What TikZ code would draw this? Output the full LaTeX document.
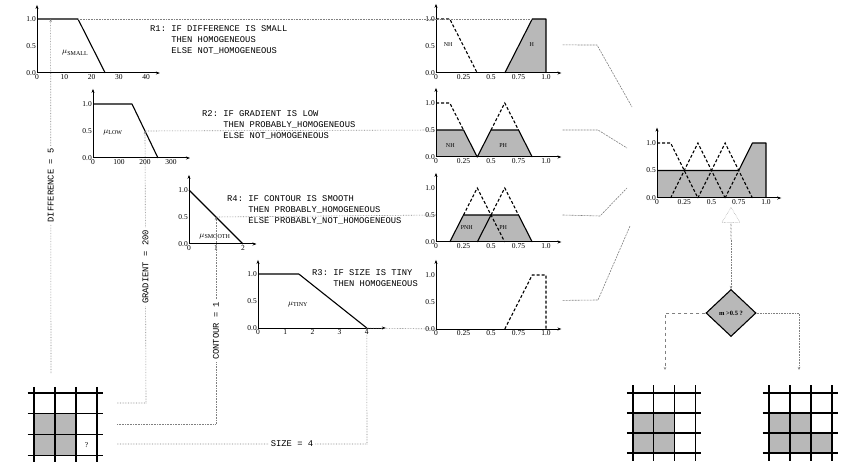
\documentclass[tikz,border=0pt]{standalone}
\usepackage{fontspec}
\setmainfont{Liberation Serif}
\setmonofont{Liberation Mono}
\usetikzlibrary{arrows.meta,shapes.geometric,shapes.arrows}

\newcommand{\rulefont}{\fontsize{8.8}{11}\selectfont\ttfamily}

\tikzset{
  axis/.style={-{Stealth[length=4pt,width=3pt]}, line width=1pt},
  member/.style={line width=1.1pt, line join=round},
  fuzzy/.style={line width=1.1pt, dash pattern=on 3pt off 2pt},
  guide/.style={gray, densely dotted, line width=0.6pt},
  link/.style={gray, dash pattern=on 2pt off 1pt, line width=0.6pt},
  ticklab/.style={font=\fontsize{7.5}{8}\selectfont, inner sep=1pt},
  setlab/.style={font=\fontsize{6}{7}\selectfont, inner sep=0pt},
  mulab/.style={font=\fontsize{8}{9}\selectfont, inner sep=0pt},
  guidelab/.style={font=\rulefont, text=black, fill=white, inner sep=2pt},
  rulebox/.style={font=\rulefont, align=left, anchor=north west, inner sep=0pt},
  cellfill/.style={fill=black!28},
  gridline/.style={line width=1.2pt},
  tip/.style={-{Stealth[length=3pt,width=2.5pt]}},
}

\begin{document}
\begin{tikzpicture}[x=1pt, y=-1pt]
  \useasboundingbox (0,0) rectangle (848,462);

  % difference is small
  \begin{scope}[shift={(37,73)}, x=2.73pt, y=54pt]
    \draw[axis] (0,0) -- (45,0);
    \draw[axis] (0,0) -- (0,1.26);
    \draw[member] (0,1) -- (15,1) -- (25,0);
    \node[ticklab, anchor=east] at (0,1) {1.0};
    \node[ticklab, anchor=east] at (0,0.5) {0.5};
    \node[ticklab, anchor=east] at (0,0) {0.0};
    \node[ticklab, anchor=north] at (0,0) {0};
    \node[ticklab, anchor=north] at (10,0) {10};
    \node[ticklab, anchor=north] at (20,0) {20};
    \node[ticklab, anchor=north] at (30,0) {30};
    \node[ticklab, anchor=north] at (40,0) {40};
    \node[mulab] (musmall) at (14,0.37) {$\mu_{\mathrm{SMALL}}$};
    \coordinate (small5) at (5,1);
    \coordinate (small15) at (15,1);
  \end{scope}

  % gradient is low
  \begin{scope}[shift={(93,158)}, x=0.26pt, y=54pt]
    \draw[axis] (0,0) -- (373,0);
    \draw[axis] (0,0) -- (0,1.28);
    \draw[member] (0,1) -- (150,1) -- (250,0);
    \node[ticklab, anchor=east] at (0,1) {1.0};
    \node[ticklab, anchor=east] at (0,0.5) {0.5};
    \node[ticklab, anchor=east] at (0,0) {0.0};
    \node[ticklab, anchor=north] at (0,0) {0};
    \node[ticklab, anchor=north] at (100,0) {100};
    \node[ticklab, anchor=north] at (200,0) {200};
    \node[ticklab, anchor=north] at (300,0) {300};
    \node[mulab] (mulow) at (77,0.48) {$\mu_{\mathrm{LOW}}$};
    \coordinate (low200) at (200,0.5);
  \end{scope}

  % contour is smooth
  \begin{scope}[shift={(189,244)}, x=27pt, y=54pt]
    \draw[axis] (0,0) -- (2.5,0);
    \draw[axis] (0,0) -- (0,1.28);
    \draw[member] (0,1) -- (2,0);
    \node[ticklab, anchor=east] at (0,1) {1.0};
    \node[ticklab, anchor=east] at (0,0.5) {0.5};
    \node[ticklab, anchor=east] at (0,0) {0.0};
    \node[ticklab, anchor=north] at (0,0) {0};
    \node[ticklab, anchor=north] at (1,0) {1};
    \node[ticklab, anchor=north] at (2,0) {2};
    \node[mulab] (musmooth) at (0.96,0.14) {$\mu_{\mathrm{SMOOTH}}$};
    \coordinate (smooth1) at (1,0.5);
  \end{scope}

  % size is tiny
  \begin{scope}[shift={(258,328)}, x=27.2pt, y=54pt]
    \draw[axis] (0,0) -- (4.7,0);
    \draw[axis] (0,0) -- (0,1.26);
    \draw[member] (0,1) -- (1.5,1) -- (4,0);
    \node[ticklab, anchor=east] at (0,1) {1.0};
    \node[ticklab, anchor=east] at (0,0.5) {0.5};
    \node[ticklab, anchor=east] at (0,0) {0.0};
    \node[ticklab, anchor=north] at (0,0) {0};
    \node[ticklab, anchor=north] at (1,0) {1};
    \node[ticklab, anchor=north] at (2,0) {2};
    \node[ticklab, anchor=north] at (3,0) {3};
    \node[ticklab, anchor=north] at (4,0) {4};
    \node[mulab] (mutiny) at (1.47,0.43) {$\mu_{\mathrm{TINY}}$};
    \coordinate (tiny4) at (4,0);
  \end{scope}

  % rules
  \node[rulebox] (rule1) at (150,25) {R1: IF DIFFERENCE IS SMALL\\\phantom{R1: }THEN HOMOGENEOUS\\\phantom{R1: }ELSE NOT\_HOMOGENEOUS};
  \node[rulebox] (rule2) at (202,110) {R2: IF GRADIENT IS LOW\\\phantom{R2: }THEN PROBABLY\_HOMOGENEOUS\\\phantom{R2: }ELSE NOT\_HOMOGENEOUS};
  \node[rulebox] (rule4) at (227,195) {R4: IF CONTOUR IS SMOOTH\\\phantom{R4: }THEN PROBABLY\_HOMOGENEOUS\\\phantom{R4: }ELSE PROBABLY\_NOT\_HOMOGENEOUS};
  \node[rulebox] (rule3) at (312,269) {R3: IF SIZE IS TINY\\\phantom{R3: }THEN HOMOGENEOUS};

  % output of R1
  \begin{scope}[shift={(436,73)}, x=110pt, y=54pt]
    \fill[cellfill] (0.625,0) -- (0.875,1) -- (1,1) -- (1,0) -- cycle;
    \draw[member] (0.625,0) -- (0.875,1) -- (1,1) -- (1,0);
    \draw[fuzzy] (0,1) -- (0.125,1) -- (0.375,0);
    \draw[axis] (0,0) -- (1.14,0);
    \draw[axis] (0,0) -- (0,1.28);
    \node[ticklab, anchor=east] at (0,1) {1.0};
    \node[ticklab, anchor=east] at (0,0.5) {0.5};
    \node[ticklab, anchor=east] at (0,0) {0.0};
    \node[ticklab, anchor=north] at (0,0) {0};
    \node[ticklab, anchor=north] at (0.25,0) {0.25};
    \node[ticklab, anchor=north] at (0.5,0) {0.5};
    \node[ticklab, anchor=north] at (0.75,0) {0.75};
    \node[ticklab, anchor=north] at (1,0) {1.0};
    \node[setlab] (nh1) at (0.11,0.52) {NH};
    \node[setlab] (h1) at (0.87,0.52) {H};
    \coordinate (r1top) at (0.875,1);
    \coordinate (r1out) at (1.15,0.52);
  \end{scope}

  % output of R2
  \begin{scope}[shift={(436,157)}, x=110pt, y=54pt]
    \fill[cellfill] (0,0) -- (0,0.5) -- (0.25,0.5) -- (0.375,0) -- cycle;
    \fill[cellfill] (0.375,0) -- (0.5,0.5) -- (0.75,0.5) -- (0.875,0) -- cycle;
    \draw[member] (0,0.5) -- (0.25,0.5) -- (0.375,0) -- (0.5,0.5) -- (0.75,0.5) -- (0.875,0);
    \draw[fuzzy] (0,1) -- (0.125,1) -- (0.25,0.5);
    \draw[fuzzy] (0.5,0.5) -- (0.625,1) -- (0.75,0.5);
    \draw[axis] (0,0) -- (1.14,0);
    \draw[axis] (0,0) -- (0,1.28);
    \node[ticklab, anchor=east] at (0,1) {1.0};
    \node[ticklab, anchor=east] at (0,0.5) {0.5};
    \node[ticklab, anchor=east] at (0,0) {0.0};
    \node[ticklab, anchor=north] at (0,0) {0};
    \node[ticklab, anchor=north] at (0.25,0) {0.25};
    \node[ticklab, anchor=north] at (0.5,0) {0.5};
    \node[ticklab, anchor=north] at (0.75,0) {0.75};
    \node[ticklab, anchor=north] at (1,0) {1.0};
    \node[setlab] (nh2) at (0.13,0.22) {NH};
    \node[setlab] (ph2) at (0.61,0.22) {PH};
    \coordinate (r2in) at (0,0.5);
    \coordinate (r2out) at (1.15,0.5);
  \end{scope}

  % output of R4
  \begin{scope}[shift={(436,242)}, x=110pt, y=54pt]
    \fill[cellfill] (0.125,0) -- (0.25,0.5) -- (0.5,0.5) -- (0.625,0) -- cycle;
    \fill[cellfill] (0.375,0) -- (0.5,0.5) -- (0.75,0.5) -- (0.875,0) -- cycle;
    \draw[member] (0.125,0) -- (0.25,0.5) -- (0.75,0.5) -- (0.875,0);
    \draw[member] (0.375,0) -- (0.5,0.5);
    \draw[fuzzy] (0.25,0.5) -- (0.375,1) -- (0.625,0);
    \draw[fuzzy] (0.5,0.5) -- (0.625,1) -- (0.75,0.5);
    \draw[axis] (0,0) -- (1.14,0);
    \draw[axis] (0,0) -- (0,1.28);
    \node[ticklab, anchor=east] at (0,1) {1.0};
    \node[ticklab, anchor=east] at (0,0.5) {0.5};
    \node[ticklab, anchor=east] at (0,0) {0.0};
    \node[ticklab, anchor=north] at (0,0) {0};
    \node[ticklab, anchor=north] at (0.25,0) {0.25};
    \node[ticklab, anchor=north] at (0.5,0) {0.5};
    \node[ticklab, anchor=north] at (0.75,0) {0.75};
    \node[ticklab, anchor=north] at (1,0) {1.0};
    \node[setlab] (pnh4) at (0.28,0.26) {PNH};
    \node[setlab] (ph4) at (0.61,0.26) {PH};
    \coordinate (r4in) at (0,0.5);
    \coordinate (r4out) at (1.15,0.5);
  \end{scope}

  % output of R3
  \begin{scope}[shift={(436,329)}, x=110pt, y=54pt]
    \draw[fuzzy] (0.625,0) -- (0.875,1) -- (1,1) -- (1,0);
    \draw[axis] (0,0) -- (1.14,0);
    \draw[axis] (0,0) -- (0,1.28);
    \node[ticklab, anchor=east] at (0,1) {1.0};
    \node[ticklab, anchor=east] at (0,0.5) {0.5};
    \node[ticklab, anchor=east] at (0,0) {0.0};
    \node[ticklab, anchor=north] at (0,0) {0};
    \node[ticklab, anchor=north] at (0.25,0) {0.25};
    \node[ticklab, anchor=north] at (0.5,0) {0.5};
    \node[ticklab, anchor=north] at (0.75,0) {0.75};
    \node[ticklab, anchor=north] at (1,0) {1.0};
    \coordinate (r3in) at (0,0);
    \coordinate (r3out) at (1.15,0.53);
  \end{scope}

  % aggregated output
  \begin{scope}[shift={(657,198)}, x=109pt, y=55pt]
    \fill[cellfill] (0,0) -- (0,0.5) -- (0.75,0.5) -- (0.875,1) -- (1,1) -- (1,0) -- cycle;
    \draw[member] (0,0.5) -- (0.75,0.5) -- (0.875,1) -- (1,1) -- (1,0);
    \draw[fuzzy] (0,1) -- (0.125,1) -- (0.375,0);
    \draw[fuzzy] (0.125,0) -- (0.375,1) -- (0.625,0);
    \draw[fuzzy] (0.375,0) -- (0.625,1) -- (0.875,0);
    \draw[fuzzy] (0.625,0) -- (0.75,0.5);
    \draw[axis] (0,0) -- (1.14,0);
    \draw[axis] (0,0) -- (0,1.28);
    \node[ticklab, anchor=east] at (0,1) {1.0};
    \node[ticklab, anchor=east] at (0,0.5) {0.5};
    \node[ticklab, anchor=east] at (0,0) {0.0};
    \node[ticklab, anchor=north] at (0,0) {0};
    \node[ticklab, anchor=north] at (0.25,0) {0.25};
    \node[ticklab, anchor=north] at (0.5,0) {0.5};
    \node[ticklab, anchor=north] at (0.75,0) {0.75};
    \node[ticklab, anchor=north] at (1,0) {1.0};
  \end{scope}

  % input values read off the region
  \coordinate (difstart) at (51,373);
  \coordinate (gradstart) at (117,403);
  \coordinate (gradbend) at (146,403);
  \coordinate (contstart) at (117,424);
  \coordinate (contbend) at (216,424);
  \coordinate (sizestart) at (117,444);
  \coordinate (sizebend) at (367,444);
  \draw[guide, tip] (difstart) -- node[guidelab, rotate=90, pos=0.53] {DIFFERENCE = 5} (small5);
  \draw[guide, tip] (gradstart) -- (gradbend) -- node[guidelab, rotate=90, pos=0.5] {GRADIENT = 200} (low200);
  \draw[guide, tip] (contstart) -- (contbend) -- node[guidelab, rotate=90, pos=0.45] {CONTOUR = 1} (smooth1);
  \draw[guide, tip] (sizestart) -- node[guidelab, pos=0.7] {SIZE = 4} (sizebend) -- (tiny4);

  % firing levels carried to the outputs
  \draw[guide] (small15) -- (r1top);
  \draw[guide] (low200) -- (r2in);
  \draw[guide] (smooth1) -- (r4in);
  \draw[guide] (tiny4) -- (r3in);

  % outputs to the aggregation
  \coordinate (r1bend) at (597,45);
  \coordinate (agg1) at (632,107);
  \coordinate (r2bend) at (598,130);
  \coordinate (agg2) at (627,148);
  \coordinate (r4bend) at (600,216);
  \coordinate (agg4) at (627,188);
  \coordinate (r3bend) at (598,300);
  \coordinate (agg3) at (630,226);
  \draw[link] (r1out) -- (r1bend) -- (agg1);
  \draw[link] (r2out) -- (r2bend) -- (agg2);
  \draw[link] (r4out) -- (r4bend) -- (agg4);
  \draw[link] (r3out) -- (r3bend) -- (agg3);

  % defuzzified value and decision
  \node[single arrow, draw=gray, densely dotted, fill=white, rotate=90, anchor=tip,
        minimum height=32pt, minimum width=18pt, single arrow head extend=5pt,
        single arrow tip angle=62, inner sep=0pt] (defuz) at (731,207) {};
  \node[diamond, draw, line width=1.1pt, fill=black!28, minimum width=50pt,
        minimum height=47pt, inner sep=0pt, font=\fontsize{6.5}{7}\selectfont\bfseries] (test) at (731,313) {m >0.5 ?};
  \draw[guide, tip] (defuz.tail) -- (test.north);
  \coordinate (nhbend) at (665,313);
  \coordinate (nhgrid) at (665,370);
  \coordinate (hbend) at (799,313);
  \coordinate (hgrid) at (799,370);
  \draw[gray, dashed, line width=0.6pt, tip] (test.west) -- (nhbend) -- (nhgrid);
  \draw[guide, tip] (test.east) -- (hbend) -- (hgrid);

  % region under test
  \begin{scope}[shift={(34,393)}, x=21pt, y=-20.7pt]
    \fill[cellfill] (0,1) rectangle (2,3);
    \draw[gridline] (-0.3,0) -- (3.3,0) (-0.3,1) -- (3.3,1) (-0.3,2) -- (3.3,2) (-0.3,3) -- (3.3,3);
    \draw[gridline] (0,-0.3) -- (0,3.4) (1,-0.3) -- (1,3.4) (2,-0.3) -- (2,3.4) (3,-0.3) -- (3,3.4);
    \node[ticklab] (unknown) at (2.5,2.5) {?};
  \end{scope}

  % not merged
  \begin{scope}[shift={(633,393)}, x=20.7pt, y=-20pt]
    \fill[cellfill] (0,1) rectangle (2,3);
    \draw[gridline] (-0.3,0) -- (3.3,0) (-0.3,1) -- (3.3,1) (-0.3,2) -- (3.3,2) (-0.3,3) -- (3.3,3);
    \draw[gridline] (0,-0.4) -- (0,3.4) (1,-0.4) -- (1,3.4) (2,-0.4) -- (2,3.4) (3,-0.4) -- (3,3.4);
  \end{scope}

  % merged
  \begin{scope}[shift={(769,393)}, x=21pt, y=-20pt]
    \fill[cellfill] (0,1) rectangle (2,3);
    \fill[cellfill] (2,2) rectangle (3,3);
    \draw[gridline] (-0.3,0) -- (3.3,0) (-0.3,1) -- (3.3,1) (-0.3,2) -- (3.3,2) (-0.3,3) -- (3.3,3);
    \draw[gridline] (0,-0.4) -- (0,3.4) (1,-0.4) -- (1,3.4) (2,-0.4) -- (2,3.4) (3,-0.4) -- (3,3.4);
  \end{scope}
\end{tikzpicture}
\end{document}
